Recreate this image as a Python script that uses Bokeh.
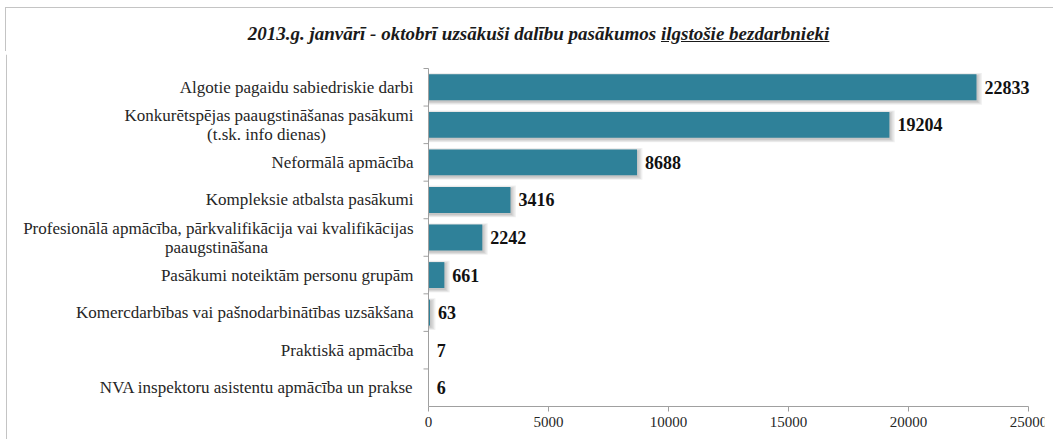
from bokeh.plotting import figure
from bokeh.models import (Range1d, Span, FixedTicker, Div, ColumnDataSource)
from bokeh.layouts import column
from bokeh.core.properties import value
from bokeh.embed import file_html
from bokeh.resources import INLINE

# ---- data ----
title_main = "2013.g. janvārī - oktobrī uzsākuši dalību pasākumos "
title_underlined = "ilgstošie bezdarbnieki"
categories = [
    "Algotie pagaidu sabiedriskie darbi",
    "Konkurētspējas paaugstināšanas pasākumi\n(t.sk. info dienas)",
    "Neformālā apmācība",
    "Kompleksie atbalsta pasākumi",
    "Profesionālā apmācība, pārkvalifikācija vai kvalifikācijas\npaaugstināšana",
    "Pasākumi noteiktām personu grupām",
    "Komercdarbības vai pašnodarbinātības uzsākšana",
    "Praktiskā apmācība",
    "NVA inspektoru asistentu apmācība un prakse",
]
values = [22833, 19204, 8688, 3416, 2242, 661, 63, 7, 6]
x_ticks = [0, 5000, 10000, 15000, 20000, 25000]

# ---- style ----
W = 1048
FIG_H = 387
BAR = "#2f8199"
GRID = "#a0a0a0"
BORDER = "#c4c4c4"
FONT = "Liberation Serif"
ML, MR = 4, 4
PX_ZERO = 428            # pixel of 0 inside figure
PPU = 0.024              # pixels per x unit
x_start = -(PX_ZERO - ML) / PPU
x_end = (W - MR - PX_ZERO) / PPU
n = len(categories)
CAT_PX = 338 / n         # pixels per category
TOP_PX = 14              # top of first category inside figure
y_end = (n - 0.5) + TOP_PX / CAT_PX
y_start = (n - 0.5) - (FIG_H - TOP_PX) / CAT_PX

ypos = [n - 1 - i for i in range(n)]
first = [c.split("\n")[0] for c in categories]
second = [c.split("\n")[1] if "\n" in c else "" for c in categories]
# approximate centre of the second label line, in px left of the axis
second_line_center = {1: -162, 4: -212}
LINE = 9.5 / CAT_PX

p = figure(width=W, height=FIG_H, output_backend="svg", toolbar_location=None,
           x_range=Range1d(x_start, x_end), y_range=Range1d(y_start, y_end),
           min_border_left=ML, min_border_right=MR, min_border_top=0, min_border_bottom=0)
p.outline_line_color = None
p.background_fill_color = "white"
p.border_fill_color = "white"
p.yaxis.visible = False
p.xgrid.visible = False
p.ygrid.visible = False

xa = p.xaxis[0]
xa.fixed_location = -0.5
xa.bounds = (0, 25000)
xa.ticker = FixedTicker(ticks=x_ticks)
xa.axis_line_color = GRID
xa.major_tick_line_color = GRID
xa.minor_tick_line_color = None
xa.major_tick_out = 5
xa.major_tick_in = 0
xa.major_label_text_font = FONT
xa.major_label_text_font_size = "15px"
xa.major_label_text_color = "#262626"
xa.major_label_standoff = 5

# left border of the chart area
p.add_layout(Span(location=x_start + (6 - ML) / PPU, dimension="height", line_color=BORDER, line_width=1))

src = ColumnDataSource(dict(y=ypos, v=values))

# soft shadow layers
for k in range(4):
    sh = ColumnDataSource(dict(y=[y - 1.5 / CAT_PX for y in ypos],
                               r=[v + (1.5 + k * 1.3) / PPU if v > 50 else v for v in values]))
    p.hbar(y="y", left=0, right="r", height=0.69 + (1 + k * 1.6) / CAT_PX, source=sh,
           fill_color="#000000", fill_alpha=0.06, line_color=None)

p.hbar(y="y", left=0, right="v", height=0.69, source=src, fill_color=BAR, line_color=None)

# vertical category axis line with boundary ticks
p.segment(x0=[0], x1=[0], y0=[min(ypos) - 0.5], y1=[max(ypos) + 0.5], line_color=GRID, line_width=1)
tick_src = ColumnDataSource(dict(y=[y + 0.5 for y in ypos]))
p.segment(x0=-5 / PPU, x1=0, y0="y", y1="y", source=tick_src, line_color=GRID, line_width=1)

# value labels
p.text(x="v", y="y", text="v", source=src, x_offset=8, text_align="left", text_baseline="middle",
       text_font=value(FONT), text_font_style="bold", text_font_size="18px", text_color="#111111")

# category labels
one = [i for i in range(n) if not second[i]]
two = [i for i in range(n) if second[i]]
s1 = ColumnDataSource(dict(y=[ypos[i] for i in one], t=[first[i] for i in one]))
p.text(x=0, y="y", text="t", source=s1, x_offset=-15, text_align="right", text_baseline="middle",
       text_font=value(FONT), text_font_size="17px", text_color="#262626")
s2a = ColumnDataSource(dict(y=[ypos[i] + LINE for i in two], t=[first[i] for i in two]))
p.text(x=0, y="y", text="t", source=s2a, x_offset=-15, text_align="right", text_baseline="middle",
       text_font=value(FONT), text_font_size="17px", text_color="#262626")
for i in two:
    sb = ColumnDataSource(dict(y=[ypos[i] - LINE], t=[second[i]]))
    p.text(x=0, y="y", text="t", source=sb, x_offset=second_line_center[i],
           text_align="center", text_baseline="middle",
           text_font=value(FONT), text_font_size="17px", text_color="#262626")

title = Div(width=W, height=44, styles={"width": f"{W}px"},
            text=(f'<div style="box-sizing:border-box;width:{W}px;height:44px;margin-top:2px;margin-left:0px;'
                  f'border-top:1px solid {BORDER};border-left:1px solid {BORDER};'
                  'text-align:center;font-family:\'Liberation Serif\';font-style:italic;'
                  'font-weight:bold;font-size:19px;padding-top:12px;padding-left:18px;color:#1a1a1a;">'
                  + title_main + '<u>' + title_underlined + '</u></div>'))

layout = column(title, p, spacing=0)

open("out.html", "w").write(file_html(layout, INLINE))
